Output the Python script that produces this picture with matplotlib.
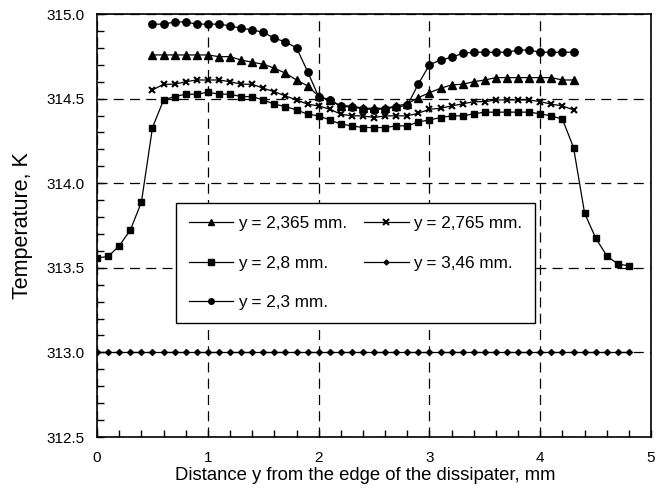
import numpy as np
import matplotlib
matplotlib.use('Agg')
import matplotlib.pyplot as plt
from matplotlib.ticker import MultipleLocator

plt.rcParams['font.family'] = ['Liberation Sans', 'DejaVu Sans']

# positions along the dissipater, mm
x_mid = np.round(np.arange(0.5, 4.31, 0.1), 1)
x_full = np.round(np.arange(0.0, 4.81, 0.1), 1)

# temperature profiles, K
t_2365 = [314.758, 314.758, 314.758, 314.758, 314.758, 314.758, 314.748, 314.748,
          314.728, 314.715, 314.703, 314.680, 314.650, 314.610, 314.575, 314.514,
          314.492, 314.457, 314.457, 314.443, 314.443, 314.443, 314.457, 314.469,
          314.506, 314.535, 314.561, 314.581, 314.585, 314.600, 314.610, 314.624,
          314.624, 314.624, 314.624, 314.624, 314.624, 314.610, 314.610]
t_2765 = [314.551, 314.585, 314.585, 314.600, 314.610, 314.610, 314.610, 314.600,
          314.585, 314.585, 314.561, 314.541, 314.516, 314.492, 314.467, 314.457,
          314.437, 314.408, 314.398, 314.398, 314.388, 314.398, 314.398, 314.398,
          314.414, 314.437, 314.443, 314.457, 314.469, 314.482, 314.482, 314.492,
          314.492, 314.492, 314.492, 314.482, 314.467, 314.457, 314.433]
t_28 = [313.558, 313.567, 313.630, 313.723, 313.888, 314.329, 314.492, 314.512,
        314.526, 314.526, 314.538, 314.526, 314.526, 314.512, 314.512, 314.492,
        314.467, 314.453, 314.433, 314.408, 314.398, 314.374, 314.349, 314.339,
        314.329, 314.329, 314.329, 314.339, 314.339, 314.362, 314.374, 314.388,
        314.398, 314.398, 314.410, 314.420, 314.420, 314.420, 314.420, 314.420,
        314.410, 314.398, 314.378, 314.211, 313.823, 313.676, 313.571, 313.522,
        313.512]
t_346 = [313.0] * 49
t_23 = [314.940, 314.940, 314.953, 314.953, 314.940, 314.940, 314.940, 314.930,
        314.916, 314.906, 314.892, 314.857, 314.835, 314.800, 314.660, 314.510,
        314.490, 314.455, 314.450, 314.440, 314.435, 314.440, 314.450, 314.460,
        314.587, 314.700, 314.728, 314.744, 314.768, 314.774, 314.774, 314.774,
        314.774, 314.787, 314.787, 314.774, 314.774, 314.774, 314.774]

labels = ['y = 2,365 mm.', 'y = 2,8 mm.', 'y = 2,3 mm.', 'y = 2,765 mm.', 'y = 3,46 mm.']

fig = plt.figure(figsize=(6.56, 4.88), dpi=100)
ax = fig.add_axes([0.148, 0.1045, 0.8445, 0.8668])

line_kw = dict(color='k', linewidth=0.9)
ax.plot(x_mid, t_2365, marker='^', markersize=6, **line_kw)
ax.plot(x_full, t_28, marker='s', markersize=5, **line_kw)
ax.plot(x_mid, t_23, marker='o', markersize=5.3, **line_kw)
ax.plot(x_mid, t_2765, marker='x', markersize=5, markeredgewidth=1.5, **line_kw)
ax.plot(x_full, t_346, marker='D', markersize=3, **line_kw)

ax.set_xlim(0, 5)
ax.set_ylim(312.5, 315.0)
ax.xaxis.set_major_locator(MultipleLocator(1))
ax.xaxis.set_minor_locator(MultipleLocator(0.2))
ax.yaxis.set_major_locator(MultipleLocator(0.5))
ax.yaxis.set_minor_locator(MultipleLocator(0.1))
ax.yaxis.set_major_formatter(matplotlib.ticker.FormatStrFormatter('%.1f'))
ax.tick_params(which='both', direction='in', length=5, width=1, labelsize=11,
               top=False, right=False)
ax.tick_params(axis='x', pad=10)
ax.tick_params(axis='y', pad=9)
ax.grid(True, which='major', color='k', linestyle=(0, (8, 5)), linewidth=0.9)
for s in ax.spines.values():
    s.set_linewidth(1.2)

ax.set_xlabel('Distance y from the edge of the dissipater, mm', fontsize=13.3, labelpad=1.5)
ax.xaxis.label.set_x(0.484)
ax.set_ylabel('Temperature, K', fontsize=15.5, labelpad=10)

# legend handles with smaller markers
def proxy(marker, ms, mew=1.0):
    return plt.Line2D([], [], color='k', linewidth=0.9, marker=marker,
                      markersize=ms, markeredgewidth=mew)

handles = [proxy('^', 4.5), proxy('s', 4), proxy('o', 4),
           proxy('x', 4, 1.5), proxy('D', 2.5)]
leg = ax.legend(handles, labels, loc='upper left', bbox_to_anchor=(0.1426, 0.553),
                ncol=2, fontsize=12.3, frameon=True, fancybox=False, shadow=False,
                edgecolor='k', framealpha=1, borderaxespad=0, handlelength=2.6,
                columnspacing=1.0, labelspacing=1.45, handletextpad=0.27,
                borderpad=0.75)
leg.get_frame().set_linewidth(1.0)

fig.savefig('out.png', dpi=100)
